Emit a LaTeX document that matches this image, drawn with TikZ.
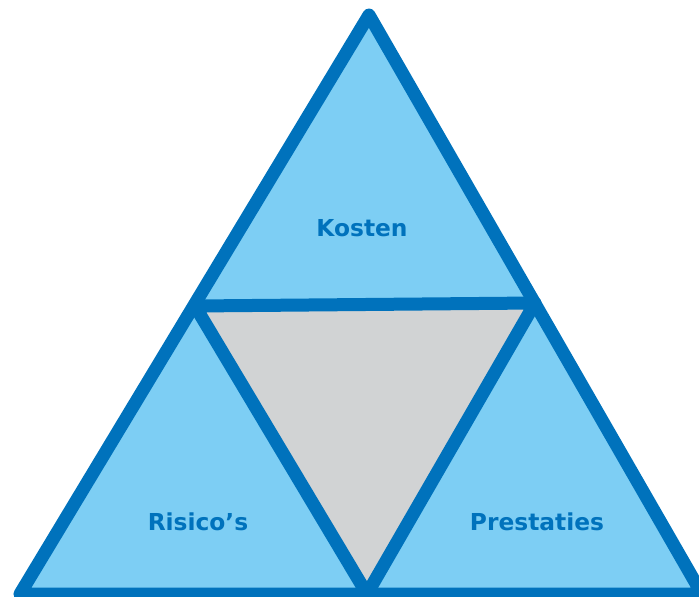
\documentclass[tikz,border=0pt]{standalone}
\usepackage{fontspec}
\setmainfont{DejaVu Sans}
\definecolor{edgeblue}{RGB}{0,114,188}
\definecolor{paleblue}{RGB}{125,206,244}
\definecolor{midgray}{RGB}{209,211,212}
\tikzset{
  edge/.style={draw=edgeblue, line width=9.75pt, line join=round},
  label/.style={font=\fontsize{17.5}{20}\selectfont\bfseries, text=edgeblue, inner sep=0pt}
}
\begin{document}
\begin{tikzpicture}[x=0.75pt,y=-0.75pt]
  \useasboundingbox (0,0) rectangle (699,596);
  % corners of the outer triangle and the midpoints of its sides
  \coordinate (top) at (369,15);
  \coordinate (bl) at (20,594);
  \coordinate (br) at (702,594);
  \coordinate (ml) at (195,306);
  \coordinate (mr) at (535,303);
  \coordinate (mb) at (367,594);
  % fills
  \fill[paleblue] (top) -- (bl) -- (br) -- cycle;
  \fill[midgray] (ml) -- (mr) -- (mb) -- cycle;
  % outlines
  \draw[edge] (top) -- (bl) -- (br) -- cycle;
  \draw[edge] (ml) -- (mr) -- (mb) -- cycle;
  % labels
  \node[label] (kosten) at (362,228) {Kosten};
  \node[label] (risico) at (198,522) {Risico’s};
  \node[label] (prestaties) at (537,522) {Prestaties};
\end{tikzpicture}
\end{document}
